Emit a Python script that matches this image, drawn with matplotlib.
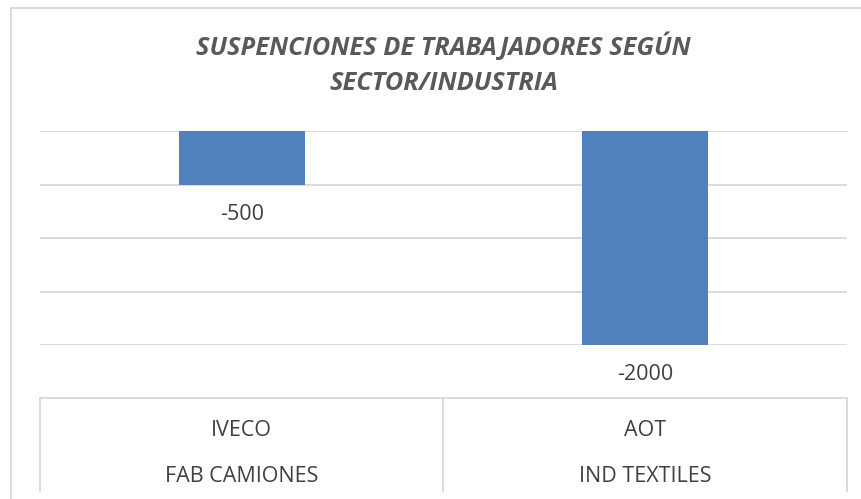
import numpy as np
import matplotlib.pyplot as plt
from matplotlib.lines import Line2D
from matplotlib.transforms import blended_transform_factory

companies = ["IVECO", "AOT"]
sectors = ["FAB CAMIONES", "IND TEXTILES"]
values = [-500, -2000]

W, H = 862, 499
bar_color = '#4F81BD'
grid_color = '#D9D9D9'
text_color = '#404040'

plt.rcParams['font.family'] = ['Open Sans', 'DejaVu Sans']

fig = plt.figure(figsize=(W / 100, H / 100), dpi=100)

def fx(px):
    return px / W

def fy(py):
    return 1 - py / H

# plot area in pixels (from top-left)
left, right, top, bottom = 40, 847, 131, 345
ax = fig.add_axes([fx(left), fy(bottom), fx(right - left), (bottom - top) / H])

x = np.arange(len(companies))
ax.bar(x, values, width=0.312, color=bar_color, zorder=3)
ax.set_xlim(-0.5, len(companies) - 0.5)
ax.set_ylim(-2000, 0)
ax.set_yticks(np.arange(-2000, 1, 500))
ax.yaxis.grid(True, color=grid_color, linewidth=1.3, zorder=0)
ax.tick_params(left=False, bottom=False, labelleft=False, labelbottom=False)
for s in ax.spines.values():
    s.set_visible(False)

# data labels under bars
for xi, v in zip(x, values):
    ax.annotate(str(v), (xi, v), xytext=(0, -21.5), textcoords='offset points',
                ha='center', va='center', fontsize=15.5, color=text_color)

# title
fig.text(0.5145, fy(47), "SUSPENCIONES DE TRABAJADORES SEGÚN", ha='center', va='center',
         fontsize=18.3, fontweight='bold', fontstyle='italic', color='#595959')
fig.text(0.5145, fy(83), "SECTOR/INDUSTRIA", ha='center', va='center',
         fontsize=18.3, fontweight='bold', fontstyle='italic', color='#595959')

# category table
trans = blended_transform_factory(ax.transData, fig.transFigure)
for xi, c, s in zip(x, companies, sectors):
    fig.text(xi, fy(430), c, transform=trans, ha='center', va='center',
             fontsize=15.5, color=text_color)
    fig.text(xi, fy(476), s, transform=trans, ha='center', va='center',
             fontsize=15.5, color=text_color)

mid = (left + right) / 2
lines = [
    ([fx(left), fx(right)], [fy(398), fy(398)]),
    ([fx(left), fx(left)], [fy(398), fy(491)]),
    ([fx(mid), fx(mid)], [fy(398), fy(491)]),
    ([fx(right), fx(right)], [fy(398), fy(491)]),
    # outer chart border
    ([fx(11), 1.0], [fy(8), fy(8)]),
    ([fx(11), fx(11)], [fy(8), 0.0]),
]
for xs, ys in lines:
    fig.add_artist(Line2D(xs, ys, color=grid_color, linewidth=1.3))

plt.savefig("out.png", dpi=100)
